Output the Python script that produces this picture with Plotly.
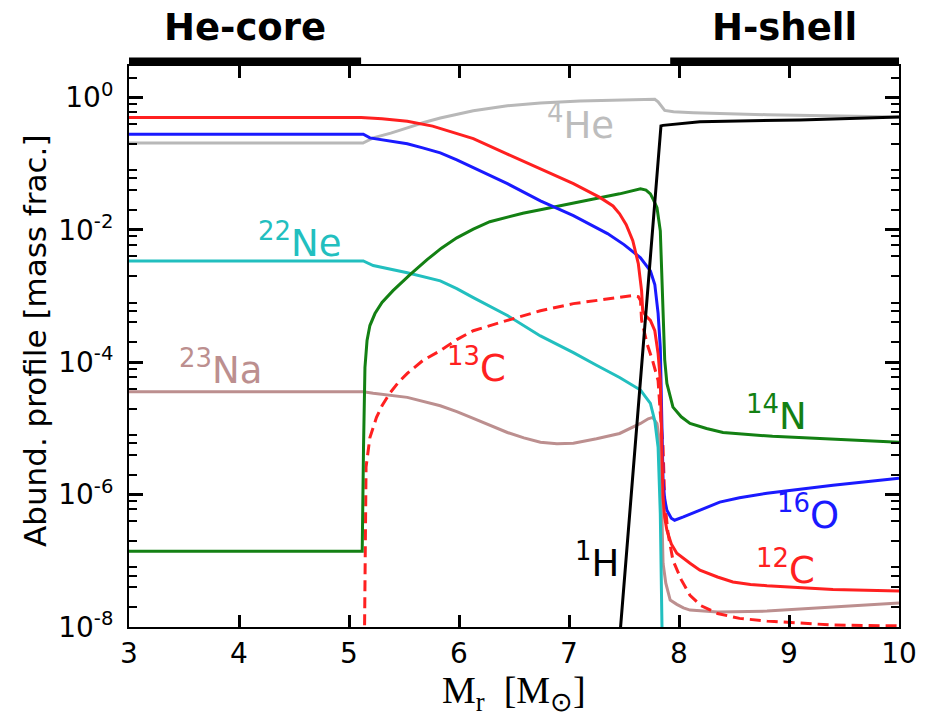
import math
import plotly.graph_objects as go

# ---------------- data ----------------
he4_x = [3.0, 5.127, 5.22, 5.38, 5.53, 5.68, 5.83, 6.13, 6.44, 6.74, 7.1, 7.46, 7.74, 7.78, 7.81, 7.83,
         7.87, 7.95, 8.13, 8.80, 9.40, 10.0]
he4_y = [0.206, 0.206, 0.246, 0.29, 0.348, 0.42, 0.49, 0.63, 0.75, 0.83, 0.89, 0.92, 0.95, 0.94, 0.86,
         0.78, 0.64, 0.61, 0.59, 0.55, 0.53, 0.51]

h1_x = [7.445, 7.836, 7.855, 8.19, 9.1, 10.0]
h1_y = [3.2e-9, 0.373, 0.38, 0.43, 0.46, 0.51]

c12_x = [3.0, 5.11, 5.30, 5.53, 5.76, 5.95, 6.13, 6.44, 6.74, 7.04, 7.28, 7.40, 7.46, 7.52, 7.58, 7.63,
         7.66, 7.67, 7.70, 7.74, 7.78, 7.81, 7.83, 7.845, 7.855, 7.87, 7.89, 7.93, 7.98, 8.10,
         8.19, 8.35, 8.49, 8.65, 8.80, 9.40, 10.0]
c12_y = [0.50, 0.50, 0.48, 0.44, 0.37, 0.30, 0.24, 0.14, 0.084, 0.050, 0.031, 0.023, 0.0175, 0.012,
         6.9e-3, 3.1e-3, 1.2e-3, 6.0e-4, 5.0e-4, 4.3e-4, 3.0e-4, 1.36e-4, 5.3e-5, 5.2e-6, 9.1e-7,
         4.5e-7, 2.9e-7, 1.8e-7, 1.3e-7, 9.2e-8, 7.2e-8, 5.7e-8, 4.8e-8, 4.4e-8, 4.2e-8, 3.7e-8, 3.5e-8]

o16_x = [3.0, 5.13, 5.19, 5.35, 5.53, 5.67, 5.83, 5.98, 6.13, 6.44, 6.74, 7.04, 7.35, 7.50, 7.65, 7.74,
         7.78, 7.81, 7.83, 7.845, 7.855, 7.87, 7.89, 7.93, 7.96, 8.04, 8.19, 8.37, 8.55, 8.80, 9.40, 10.0]
o16_y = [0.28, 0.28, 0.246, 0.225, 0.20, 0.174, 0.146, 0.1146, 0.087, 0.050, 0.0275, 0.0164, 8.8e-3,
         6.0e-3, 3.8e-3, 2.4e-3, 1.5e-3, 5.5e-4, 1.67e-4, 1.7e-5, 1.66e-6, 8.5e-7, 5.8e-7, 4.4e-7,
         4.1e-7, 4.6e-7, 5.8e-7, 7.7e-7, 9.0e-7, 1.05e-6, 1.39e-6, 1.77e-6]

n14_x = [3.0, 5.12, 5.132, 5.145, 5.164, 5.19, 5.236, 5.30, 5.40, 5.555, 5.71, 5.84, 5.98, 6.13, 6.28,
         6.44, 6.58, 6.74, 6.89, 7.19, 7.46, 7.65, 7.70, 7.74, 7.77, 7.80, 7.83, 7.845, 7.855, 7.87,
         7.89, 7.92, 7.945, 8.02, 8.10, 8.25, 8.40, 8.85, 9.46, 10.0]
n14_y = [1.4e-7, 1.4e-7, 5.2e-6, 8.35e-5, 2.13e-4, 3.59e-4, 5.45e-4, 8.0e-4, 1.21e-3, 2.11e-3, 3.55e-3,
         5.3e-3, 7.6e-3, 0.01026, 0.0133, 0.0158, 0.0179, 0.0202, 0.0228, 0.0286, 0.0351, 0.0418, 0.040,
         0.035, 0.028, 0.0216, 9.7e-3, 1.7e-3, 3.0e-4, 1.1e-4, 4.8e-5, 3.0e-5, 2.1e-5, 1.5e-5, 1.19e-5,
         1.0e-5, 8.7e-6, 7.6e-6, 6.9e-6, 6.2e-6]

ne22_x = [3.0, 5.13, 5.22, 5.53, 5.83, 5.98, 6.13, 6.44, 6.74, 7.04, 7.25, 7.46, 7.65, 7.74, 7.78,
          7.81, 7.83, 7.85]
ne22_y = [3.4e-3, 3.4e-3, 2.9e-3, 2.26e-3, 1.7e-3, 1.3e-3, 9.5e-4, 5.1e-4, 2.5e-4, 1.4e-4, 9.0e-5,
          5.9e-5, 3.8e-5, 2.4e-5, 1.3e-5, 5.2e-6, 5.2e-7, 3e-9]

na23_x = [3.0, 5.13, 5.22, 5.53, 5.83, 5.98, 6.13, 6.29, 6.44, 6.59, 6.74, 6.89, 7.04, 7.25, 7.46,
          7.65, 7.72, 7.76, 7.80, 7.83, 7.845, 7.855, 7.88, 7.92, 7.98, 8.04, 8.10, 8.35, 8.80, 9.40, 10.0]
na23_y = [3.6e-5, 3.6e-5, 3.4e-5, 2.95e-5, 2.2e-5, 1.8e-5, 1.42e-5, 1.1e-5, 8.7e-6, 7.2e-6, 6.2e-6,
          5.9e-6, 6.0e-6, 7.0e-6, 8.4e-6, 1.19e-5, 1.4e-5, 1.47e-5, 1.19e-5, 5.2e-6, 5.2e-7, 9.2e-8,
          4.6e-8, 2.55e-8, 2.2e-8, 1.95e-8, 1.8e-8, 1.68e-8, 1.74e-8, 2.0e-8, 2.3e-8]

c13_x = [5.136, 5.145, 5.155, 5.19, 5.25, 5.30, 5.37, 5.45, 5.53, 5.67, 5.83, 5.98, 6.13, 6.44,
         6.74, 7.04, 7.46, 7.58, 7.63, 7.65, 7.66, 7.71, 7.76, 7.81, 7.83, 7.855, 7.87, 7.90, 7.945,
         8.02, 8.10, 8.20, 8.35, 8.55, 8.80, 9.40, 10.0]
c13_y = [1e-9, 2.0e-7, 2.6e-6, 7.3e-6, 1.47e-5, 2.2e-5, 3.4e-5, 5.0e-5, 6.8e-5, 1.06e-4, 1.5e-4,
         2.2e-4, 3.0e-4, 4.3e-4, 6.0e-4, 7.7e-4, 9.5e-4, 1.02e-3, 9.8e-4, 8.6e-4, 4.3e-4, 1.9e-4,
         1.06e-4, 5.3e-5, 1.7e-5, 5.2e-6, 8.2e-7, 2.6e-7, 1.02e-7, 5.2e-8, 3.0e-8, 2.1e-8, 1.6e-8,
         1.35e-8, 1.23e-8, 1.07e-8, 1.04e-8]

# label positions (x, y) and texts
labels = [
    ("<sup>4</sup>He", 7.1, 0.42, "#bdbdbd"),
    ("<sup>22</sup>Ne", 4.55, 6.9e-3, "#22bfbf"),
    ("<sup>23</sup>Na", 3.83, 8.3e-5, "#bc8f8f"),
    ("<sup>13</sup>C", 6.16, 8.9e-5, "#ff2020"),
    ("<sup>14</sup>N", 8.89, 1.7e-5, "#138013"),
    ("<sup>16</sup>O", 9.17, 5.4e-7, "#1a1aff"),
    ("<sup>12</sup>C", 8.97, 8.0e-8, "#ff2020"),
    ("<sup>1</sup>H", 7.25, 1.02e-7, "black"),
]

regions = [("He-core", 3.0, 5.11), ("H-shell", 7.92, 10.0)]

x_ticks = [3, 4, 5, 6, 7, 8, 9, 10]
y_major = [1e0, 1e-2, 1e-4, 1e-6, 1e-8]
y_major_text = ["10<sup>0</sup>", "10<sup>-2</sup>", "10<sup>-4</sup>", "10<sup>-6</sup>", "10<sup>-8</sup>"]
y_minor = [m * 10.0 ** e for e in range(-8, 1) for m in (2, 4, 6, 8)]

# ---------------- figure ----------------
fig = go.Figure()
LW = 3
series = [
    (he4_x, he4_y, "#b8b8b8", "solid"),
    (na23_x, na23_y, "#bc8f8f", "solid"),
    (ne22_x, ne22_y, "#22bfbf", "solid"),
    (c13_x, c13_y, "#ff2020", "11px,6px"),
    (n14_x, n14_y, "#138013", "solid"),
    (o16_x, o16_y, "#1a1aff", "solid"),
    (c12_x, c12_y, "#ff2020", "solid"),
    (h1_x, h1_y, "black", "solid"),
]
for xs, ys, col, dash in series:
    fig.add_trace(go.Scatter(x=xs, y=ys, mode="lines",
                             line=dict(color=col, width=LW, dash=dash),
                             showlegend=False, hoverinfo="skip"))

FONT = "DejaVu Sans"
for txt, lx, ly, col in labels:
    fig.add_annotation(x=lx, y=math.log10(ly), yref="y", xref="x", text=txt, showarrow=False,
                       font=dict(family=FONT, size=37, color=col),
                       xanchor="center", yanchor="middle")

for name, x0, x1 in regions:
    fig.add_shape(type="rect", xref="x", yref="paper", x0=x0, x1=x1, y0=1.0, y1=1.015,
                  fillcolor="black", line=dict(width=0), layer="above")
    fig.add_annotation(x=(x0 + x1) / 2, xref="x", y=1.069, yref="paper", text="<b>%s</b>" % name,
                       showarrow=False, font=dict(family=FONT, size=37, color="black"),
                       xanchor="center", yanchor="middle")

# axis titles
fig.add_annotation(x=-0.122, y=0.51, xref="paper", yref="paper",
                   text="Abund. profile [mass frac.]", textangle=-90, showarrow=False,
                   font=dict(family=FONT, size=31, color="black"),
                   xanchor="center", yanchor="middle")
fig.add_annotation(x=0.5, y=-0.118, xref="paper", yref="paper",
                   text="M<sub>r</sub>  [M<sub>⊙</sub>]", showarrow=False,
                   font=dict(family="Liberation Serif", size=38, color="black"),
                   xanchor="center", yanchor="middle")

fig.update_xaxes(range=[3, 10], tickvals=x_ticks, ticktext=[str(v) for v in x_ticks],
                 ticks="inside", ticklen=12, tickwidth=3, tickcolor="black",
                 showline=True, linecolor="black", linewidth=2, mirror="allticks",
                 showgrid=False, zeroline=False,
                 tickfont=dict(family=FONT, size=28, color="black"), ticklabelstandoff=0)
fig.update_yaxes(type="log", range=[-8, 0.477], tickvals=y_major, ticktext=y_major_text,
                 ticks="inside", ticklen=14, tickwidth=3, tickcolor="black",
                 showline=True, linecolor="black", linewidth=2, mirror="allticks",
                 showgrid=False, zeroline=False,
                 minor=dict(tickvals=y_minor, ticks="inside", ticklen=8, tickwidth=2,
                            tickcolor="black", showgrid=False),
                 tickfont=dict(family=FONT, size=28, color="black"), ticklabelstandoff=8)

# page body has an 8px margin: compensate so the plot area lands at the reference pixels
fig.update_layout(width=920, height=714, margin=dict(l=121, r=29, t=58, b=95),
                  plot_bgcolor="white", paper_bgcolor="white", font=dict(family=FONT))

fig.write_html("out.html")
